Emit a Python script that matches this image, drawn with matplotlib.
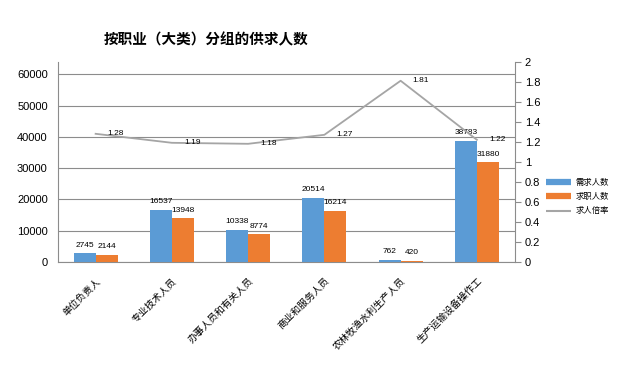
import numpy as np
import matplotlib
matplotlib.use('Agg')
import matplotlib.pyplot as plt
from matplotlib.lines import Line2D

plt.rcParams['font.family'] = ['Liberation Sans', 'Noto Sans CJK SC', 'DejaVu Sans']

# data
categories = ['单位负责人', '专业技术人员', '办事人员和有关人员', '商业和服务人员',
              '农林牧渔水利生产人员', '生产运输设备操作工']
demand = [2745, 16537, 10338, 20514, 762, 38783]
seekers = [2144, 13948, 8774, 16214, 420, 31880]
ratio = [1.28, 1.19, 1.18, 1.27, 1.81, 1.22]

blue = '#5B9BD5'
orange = '#ED7D31'
grey_line = '#A5A5A5'
grid_c = '#8C8C8C'

fig = plt.figure(figsize=(6.25, 3.72), dpi=100)
ax = fig.add_axes([0.092, 0.296, 0.732, 0.538])
ax2 = ax.twinx()

x = np.arange(len(categories))
w = 0.29

ax.bar(x - w / 2, demand, w, color=blue, zorder=3)
ax.bar(x + w / 2, seekers, w, color=orange, zorder=3)
for xi, d, s in zip(x, demand, seekers):
    ax.text(xi - w / 2, d + 1500, str(d), ha='center', va='bottom', fontsize=6, zorder=5)
    ax.text(xi + w / 2, s + 1500, str(s), ha='center', va='bottom', fontsize=6, zorder=5)

ax.set_xlim(-0.5, len(categories) - 0.5)
ax.set_ylim(0, 64000)
ax.set_yticks(range(0, 60001, 10000))
ax.yaxis.grid(True, color=grid_c, linewidth=0.8, zorder=0)
ax.set_axisbelow(True)
ax.tick_params(axis='y', length=0, pad=7, labelsize=8)
ax.tick_params(axis='x', length=0, pad=10)
ax.set_xticks(x)
ax.set_xticklabels(categories, rotation=45, ha='right', rotation_mode='anchor', fontsize=7)
for side in ['top', 'right']:
    ax.spines[side].set_visible(False)
ax.spines['left'].set_color(grid_c)
ax.spines['bottom'].set_color(grid_c)

ax2.plot(x, ratio, color=grey_line, linewidth=1.3, zorder=4)
for xi, r in zip(x, ratio):
    ax2.text(xi + 0.16, r, f'{r:.2f}', ha='left', va='center', fontsize=6, zorder=5)
ax2.set_ylim(0, 2)
ax2.set_yticks(np.arange(0, 2.01, 0.2))
ax2.set_yticklabels(['0', '0.2', '0.4', '0.6', '0.8', '1', '1.2', '1.4', '1.6', '1.8', '2'])
ax2.tick_params(axis='y', length=4, pad=3, labelsize=8, color=grid_c)
for side in ['top', 'left', 'bottom']:
    ax2.spines[side].set_visible(False)
ax2.spines['right'].set_color(grid_c)

fig.text(0.33, 0.893, '按职业（大类）分组的供求人数', ha='center', va='center',
         fontsize=10.5, fontweight='bold')

handles = [Line2D([], [], color=blue, linewidth=4.5, solid_capstyle='butt'),
           Line2D([], [], color=orange, linewidth=4.5, solid_capstyle='butt'),
           Line2D([], [], color=grey_line, linewidth=1.5, solid_capstyle='butt')]
fig.legend(handles, ['需求人数', '求职人数', '求人倍率'], loc='center left',
           bbox_to_anchor=(0.862, 0.47), frameon=False, fontsize=6,
           handlelength=3.0, handletextpad=0.5, labelspacing=0.75)

fig.savefig('out.png', dpi=100)
